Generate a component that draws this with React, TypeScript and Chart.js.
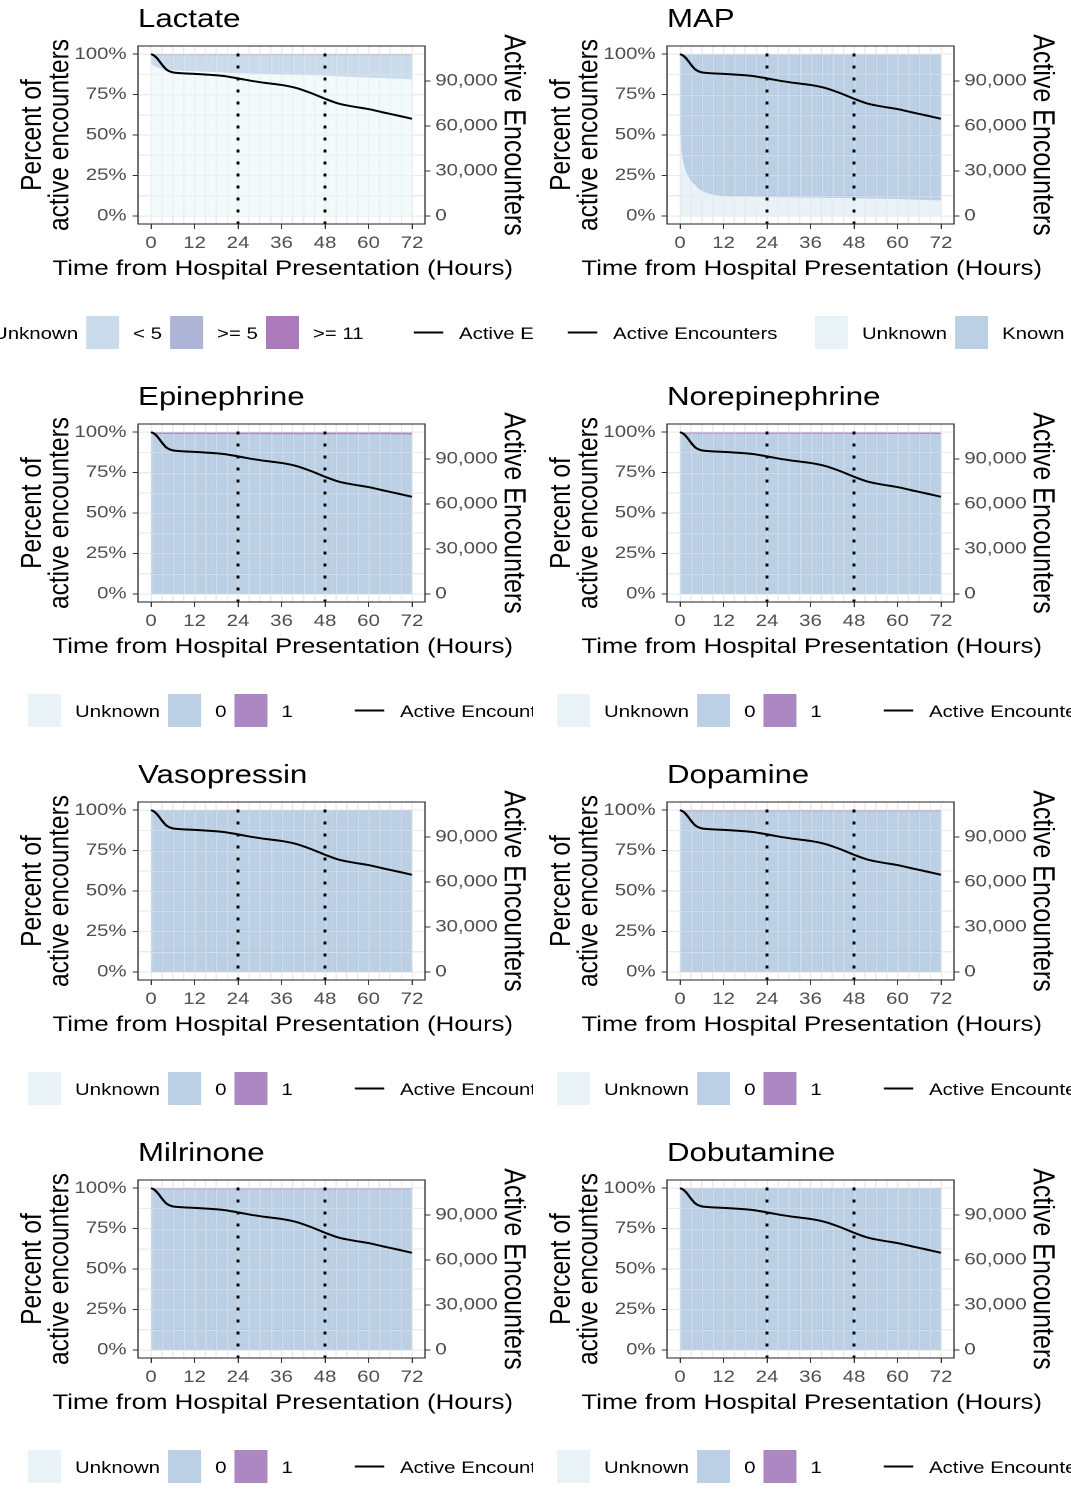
import React, { useEffect, useRef } from 'react';
import { Chart, registerables } from 'chart.js';

Chart.register(...registerables);

const FONT = '"Liberation Sans", Arial, Helvetica, sans-serif';
Chart.defaults.font.family = FONT;

// ---------------- data ----------------
const hourTicks = [0, 12, 24, 36, 48, 60, 72];
const gridHours = [0, 3, 6, 9, 12, 15, 18, 21, 24, 27, 30, 33, 36, 39, 42, 45, 48, 51, 54, 57, 60, 63, 66, 69, 72];
const percentTicks = [0, 25, 50, 75, 100];
const gridPercents = [0, 12.5, 25, 37.5, 50, 62.5, 75, 87.5, 100];
const encounterTicks = [0, 30000, 60000, 90000];
const markerHours = [24, 48];

const encounterHours = [0, 1, 2, 3, 4, 5, 6, 8, 12, 16, 20, 24, 28, 32, 36, 40, 44, 48, 52, 56, 60, 64, 68, 72];
const activeEncounters = [108000, 106700, 104200, 101000, 98200, 96600, 95800, 95300, 94800, 94200, 93400, 91800, 90000, 88600, 87400, 85400, 82100, 78200, 74800, 72900, 71300, 69100, 67000, 64800];
const encounterAtFullScale = 108000;

// Lactate
const lactateHours = [0, 1, 2, 3, 4, 6, 8, 12, 18, 24, 30, 36, 42, 48, 54, 60, 66, 72];
const lactateUnknown = [93.5, 92.5, 91.5, 91.0, 90.6, 90.0, 89.8, 89.4, 88.8, 88.1, 87.8, 87.4, 87.0, 86.6, 86.0, 85.4, 84.9, 84.3];
const lactateLt5 = [5.7, 6.7, 7.7, 8.2, 8.6, 9.2, 9.4, 9.8, 10.4, 11.1, 11.4, 11.8, 12.2, 12.6, 13.2, 13.8, 14.3, 14.9];
const lactateGe5 = [0.5, 0.5, 0.5, 0.5, 0.5, 0.5, 0.5, 0.5, 0.5, 0.5, 0.5, 0.5, 0.5, 0.5, 0.5, 0.5, 0.5, 0.5];
const lactateGe11 = [0.3, 0.3, 0.3, 0.3, 0.3, 0.3, 0.3, 0.3, 0.3, 0.3, 0.3, 0.3, 0.3, 0.3, 0.3, 0.3, 0.3, 0.3];

// MAP
const mapHours = [0, 0.5, 1, 1.5, 2, 3, 4, 5, 6, 8, 10, 12, 18, 24, 30, 36, 42, 48, 54, 60, 66, 72];
const mapUnknown = [52, 38, 32, 28, 25.5, 21.5, 19.5, 17, 15.5, 13.8, 12.8, 12.2, 11.8, 11.5, 11.4, 11.2, 11.1, 10.9, 10.7, 10.4, 9.9, 9.5];
const mapKnown = [48, 62, 68, 72, 74.5, 78.5, 80.5, 83, 84.5, 86.2, 87.2, 87.8, 88.2, 88.5, 88.6, 88.8, 88.9, 89.1, 89.3, 89.6, 90.1, 90.5];

// Vasoactive drugs (Unknown / 0 / 1)
const drugHours = [0, 12, 24, 36, 48, 60, 72];
const drugUnknown = [0, 0, 0, 0, 0, 0, 0];
const epinephrine0 = [98.8, 98.7, 98.7, 98.6, 98.6, 98.6, 98.5];
const epinephrine1 = [1.2, 1.3, 1.3, 1.4, 1.4, 1.4, 1.5];
const norepinephrine0 = [99.0, 99.0, 98.9, 98.9, 98.9, 98.8, 98.8];
const norepinephrine1 = [1.0, 1.0, 1.1, 1.1, 1.1, 1.2, 1.2];
const vasopressin0 = [99.7, 99.7, 99.7, 99.7, 99.7, 99.7, 99.7];
const vasopressin1 = [0.3, 0.3, 0.3, 0.3, 0.3, 0.3, 0.3];
const dopamine0 = [99.2, 99.2, 99.2, 99.2, 99.2, 99.2, 99.2];
const dopamine1 = [0.8, 0.8, 0.8, 0.8, 0.8, 0.8, 0.8];
const milrinone0 = [99.2, 99.2, 99.2, 99.2, 99.2, 99.2, 99.2];
const milrinone1 = [0.8, 0.8, 0.8, 0.8, 0.8, 0.8, 0.8];
const dobutamine0 = [99.7, 99.7, 99.7, 99.7, 99.7, 99.7, 99.7];
const dobutamine1 = [0.3, 0.3, 0.3, 0.3, 0.3, 0.3, 0.3];

// ---------------- styles ----------------
const bupu4 = ['rgba(237,248,251,0.7)', 'rgba(179,205,227,0.7)', 'rgba(140,150,198,0.7)', 'rgba(136,65,157,0.7)'];
const bupu3 = ['rgba(224,236,244,0.7)', 'rgba(158,188,218,0.7)', 'rgba(136,86,167,0.7)'];

const SX = 1.2; // horizontal stretch of the picture
const H = 378;
const BOX_L = 115;
const BOX_R = 354.2;
const BOX_T = 46;
const BOX_B = 224;

type Series = { name: string; values: number[]; color: string };
type LegendItem = { kind: 'box' | 'line'; color?: string; label: string };
type LegendGroup = { x: number; items: LegendItem[] };
type PanelCfg = { title: string; hours: number[]; series: Series[]; legend: LegendGroup[] };

const lineItem: LegendItem = { kind: 'line', label: 'Active Encounters' };

function drugPanel(title: string, v0: number[], v1: number[]): PanelCfg {
  return {
    title,
    hours: drugHours,
    series: [
      { name: 'Unknown', values: drugUnknown, color: bupu3[0] },
      { name: '0', values: v0, color: bupu3[1] },
      { name: '1', values: v1, color: bupu3[2] },
    ],
    legend: [
      {
        x: 28,
        items: [
          { kind: 'box', color: bupu3[0], label: 'Unknown' },
          { kind: 'box', color: bupu3[1], label: '0' },
          { kind: 'box', color: bupu3[2], label: '1' },
        ],
      },
      { x: 353, items: [lineItem] },
    ],
  };
}

const panels: PanelCfg[] = [
  {
    title: 'Lactate',
    hours: lactateHours,
    series: [
      { name: 'Unknown', values: lactateUnknown, color: bupu4[0] },
      { name: '< 5', values: lactateLt5, color: bupu4[1] },
      { name: '>= 5', values: lactateGe5, color: bupu4[2] },
      { name: '>= 11', values: lactateGe11, color: bupu4[3] },
    ],
    legend: [
      {
        x: -54,
        items: [
          { kind: 'box', color: bupu4[0], label: 'Unknown' },
          { kind: 'box', color: bupu4[1], label: '< 5' },
          { kind: 'box', color: bupu4[2], label: '>= 5' },
          { kind: 'box', color: bupu4[3], label: '>= 11' },
        ],
      },
      { x: 412, items: [lineItem] },
    ],
  },
  {
    title: 'MAP',
    hours: mapHours,
    series: [
      { name: 'Unknown', values: mapUnknown, color: bupu3[0] },
      { name: 'Known', values: mapKnown, color: bupu3[1] },
    ],
    legend: [
      { x: 37, items: [lineItem] },
      {
        x: 286,
        items: [
          { kind: 'box', color: bupu3[0], label: 'Unknown' },
          { kind: 'box', color: bupu3[1], label: 'Known' },
        ],
      },
    ],
  },
  drugPanel('Epinephrine', epinephrine0, epinephrine1),
  drugPanel('Norepinephrine', norepinephrine0, norepinephrine1),
  drugPanel('Vasopressin', vasopressin0, vasopressin1),
  drugPanel('Dopamine', dopamine0, dopamine1),
  drugPanel('Milrinone', milrinone0, milrinone1),
  drugPanel('Dobutamine', dobutamine0, dobutamine1),
];

function font(size: number) {
  return `${size}px ${FONT}`;
}

function buildConfig(cfg: PanelCfg, canvasW: number): any {
  const fillSets = cfg.series.map((s, i) => ({
    type: 'line',
    label: s.name,
    data: cfg.hours.map((h, j) => ({ x: h, y: s.values[j] })),
    xAxisID: 'x',
    yAxisID: 'y',
    backgroundColor: s.color,
    borderColor: 'rgba(0,0,0,0)',
    borderWidth: 0,
    pointRadius: 0,
    fill: i === 0 ? 'origin' : '-1',
    cubicInterpolationMode: 'monotone',
    order: 1,
  }));
  const lineIndex = fillSets.length;
  const lineSet = {
    type: 'line',
    label: 'Active Encounters',
    data: encounterHours.map((h, j) => ({ x: h, y: activeEncounters[j] })),
    xAxisID: 'x',
    yAxisID: 'yR',
    borderColor: '#000',
    borderWidth: 2,
    pointRadius: 0,
    fill: false,
    cubicInterpolationMode: 'monotone',
    order: 0,
  };

  const decor = {
    id: 'decor',
    beforeDatasetDraw(chart: any, args: any) {
      if (args.index !== lineIndex) return;
      const { ctx, chartArea: a, scales } = chart;
      ctx.save();
      ctx.strokeStyle = 'rgba(238,238,238,0.45)';
      ctx.lineWidth = 1;
      ctx.beginPath();
      gridHours.forEach((h) => {
        const x = Math.round(scales.x.getPixelForValue(h)) + 0.5;
        ctx.moveTo(x, a.top);
        ctx.lineTo(x, a.bottom);
      });
      gridPercents.forEach((p) => {
        const y = Math.round(scales.y.getPixelForValue(p)) + 0.5;
        ctx.moveTo(a.left, y);
        ctx.lineTo(a.right, y);
      });
      ctx.stroke();
      ctx.strokeStyle = '#000';
      ctx.lineWidth = 2.4;
      ctx.setLineDash([3, 9]);
      ctx.beginPath();
      markerHours.forEach((h) => {
        const x = scales.x.getPixelForValue(h);
        ctx.moveTo(x, 53.5);
        ctx.lineTo(x, a.bottom);
      });
      ctx.stroke();
      ctx.restore();
    },
    afterDraw(chart: any) {
      const { ctx, chartArea: a } = chart;
      ctx.save();
      // panel border
      ctx.strokeStyle = '#333333';
      ctx.lineWidth = 1.1;
      ctx.strokeRect(a.left, a.top, a.right - a.left, a.bottom - a.top);
      // title
      ctx.fillStyle = '#000';
      ctx.font = font(26);
      ctx.textAlign = 'left';
      ctx.textBaseline = 'alphabetic';
      ctx.fillText(cfg.title, a.left, 27);
      // x title
      ctx.font = font(21.5);
      ctx.textAlign = 'center';
      ctx.fillText('Time from Hospital Presentation (Hours)', (a.left + a.right) / 2 + 1, 275);
      // left title
      const cy = (a.top + a.bottom) / 2;
      ctx.font = font(24.5);
      ctx.save();
      ctx.translate(34, cy);
      ctx.rotate(-Math.PI / 2);
      ctx.fillText('Percent of', 0, 0);
      ctx.restore();
      ctx.save();
      ctx.translate(57, cy);
      ctx.rotate(-Math.PI / 2);
      ctx.fillText('active encounters', 0, 0);
      ctx.restore();
      // right title
      ctx.font = font(25);
      ctx.save();
      ctx.translate(420.5, cy);
      ctx.rotate(Math.PI / 2);
      ctx.fillText('Active Encounters', 0, 0);
      ctx.restore();
      // legend
      ctx.font = font(17);
      ctx.textAlign = 'left';
      const keyW = 33 / SX;
      const gapKT = 14 / SX;
      const gapItem = 8 / SX;
      cfg.legend.forEach((g) => {
        let x = g.x / SX;
        g.items.forEach((it) => {
          if (it.kind === 'box') {
            ctx.fillStyle = it.color;
            ctx.fillRect(x, 316, keyW, 33);
          } else {
            ctx.strokeStyle = '#000';
            ctx.lineWidth = 2;
            ctx.beginPath();
            ctx.moveTo(x + 1.5, 332.5);
            ctx.lineTo(x + keyW - 1.5, 332.5);
            ctx.stroke();
          }
          x += keyW + gapKT;
          ctx.fillStyle = '#000';
          ctx.fillText(it.label, x, 339);
          x += ctx.measureText(it.label).width + gapItem;
        });
      });
      ctx.restore();
    },
  };

  const tickFont = { family: FONT, size: 17 };
  const yMax = 105;
  const yMin = -5;

  return {
    type: 'line',
    data: { datasets: [...fillSets, lineSet] },
    plugins: [decor],
    options: {
      responsive: false,
      animation: false,
      devicePixelRatio: 2,
      layout: { padding: { top: BOX_T, left: 0, right: 0, bottom: 0 } },
      plugins: { legend: { display: false }, tooltip: { enabled: false }, title: { display: false } },
      elements: { point: { radius: 0 } },
      scales: {
        x: {
          type: 'linear',
          position: 'bottom',
          min: -3.6,
          max: 75.6,
          afterBuildTicks: (s: any) => {
            s.ticks = gridHours.map((v) => ({ value: v }));
          },
          afterFit: (s: any) => {
            s.height = H - BOX_B;
          },
          ticks: {
            autoSkip: false,
            maxRotation: 0,
            minRotation: 0,
            padding: 4,
            color: '#4d4d4d',
            font: tickFont,
            callback: (v: number) => (hourTicks.includes(v) ? String(v) : ''),
          },
          grid: {
            color: '#ebebeb',
            lineWidth: 1,
            tickLength: 5,
            tickColor: (c: any) => (c.tick && hourTicks.includes(c.tick.value) ? '#333333' : 'rgba(0,0,0,0)'),
          },
          border: { display: false },
        },
        y: {
          type: 'linear',
          position: 'left',
          stacked: true,
          min: yMin,
          max: yMax,
          afterBuildTicks: (s: any) => {
            s.ticks = gridPercents.map((v) => ({ value: v }));
          },
          afterFit: (s: any) => {
            s.width = BOX_L;
          },
          ticks: {
            autoSkip: false,
            padding: 5,
            color: '#4d4d4d',
            font: tickFont,
            callback: (v: number) => (percentTicks.includes(v) ? `${v}%` : ''),
          },
          grid: {
            color: '#ebebeb',
            lineWidth: 1,
            tickLength: 4.5,
            tickColor: (c: any) => (c.tick && percentTicks.includes(c.tick.value) ? '#333333' : 'rgba(0,0,0,0)'),
          },
          border: { display: false },
        },
        yR: {
          type: 'linear',
          position: 'right',
          min: (yMin / 100) * encounterAtFullScale,
          max: (yMax / 100) * encounterAtFullScale,
          afterBuildTicks: (s: any) => {
            s.ticks = encounterTicks.map((v) => ({ value: v }));
          },
          afterFit: (s: any) => {
            s.width = canvasW - BOX_R;
          },
          ticks: {
            autoSkip: false,
            padding: 4,
            color: '#4d4d4d',
            font: tickFont,
            callback: (v: number) => v.toLocaleString('en-US'),
          },
          grid: { drawOnChartArea: false, tickLength: 4.5, tickColor: '#333333' },
          border: { display: false },
        },
      },
    },
  };
}

function Panel({ cfg, canvasW, left }: { cfg: PanelCfg; canvasW: number; left: number }) {
  const ref = useRef<HTMLCanvasElement>(null);
  useEffect(() => {
    if (!ref.current) return;
    const chart = new Chart(ref.current, buildConfig(cfg, canvasW));
    return () => chart.destroy();
  }, [cfg, canvasW]);
  return (
    <canvas
      ref={ref}
      width={canvasW}
      height={H}
      style={{
        position: 'absolute',
        left,
        top: 0,
        width: `${canvasW}px`,
        height: `${H}px`,
        transform: `scaleX(${SX})`,
        transformOrigin: '0 0',
      }}
    />
  );
}

export default function App() {
  return (
    <div
      style={{
        position: 'absolute',
        left: 0,
        top: 0,
        width: 1071,
        height: 1501,
        overflow: 'hidden',
        background: '#ffffff',
      }}
    >
      {panels.map((p, i) => {
        const col = i % 2;
        const row = Math.floor(i / 2);
        return (
          <div
            key={p.title}
            style={{
              position: 'absolute',
              left: col === 0 ? 0 : 533,
              top: row * H,
              width: col === 0 ? 533 : 538,
              height: H,
              overflow: 'hidden',
            }}
          >
            <Panel cfg={p} canvasW={col === 0 ? 445 : 452} left={col === 0 ? 0 : -4} />
          </div>
        );
      })}
    </div>
  );
}
